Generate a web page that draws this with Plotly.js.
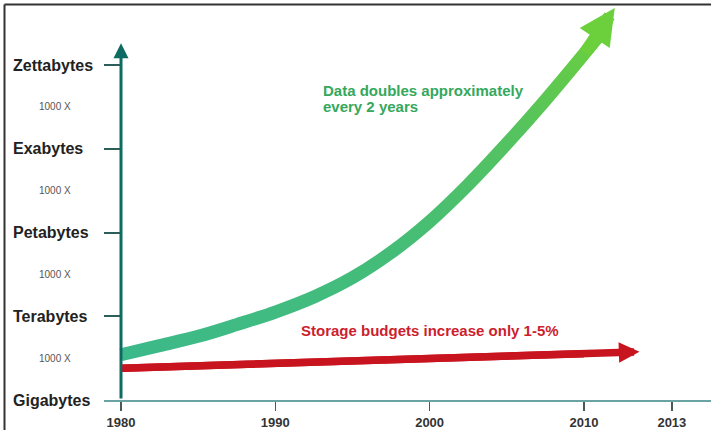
<!DOCTYPE html>
<html>
<head>
<meta charset="utf-8">
<script src="https://cdn.plot.ly/plotly-3.0.1.min.js"></script>
<style>
  html, body { margin: 0; padding: 0; background: #ffffff; }
  #chart { width: 711px; height: 430px; }
</style>
</head>
<body>
<div id="chart"></div>
<script>
// ---- data ----
const levelNames = ['Gigabytes', 'Terabytes', 'Petabytes', 'Exabytes', 'Zettabytes'];
const levelValues = [0, 1, 2, 3, 4];
const stepLabel = '1000 X';
const stepValues = [0.5, 1.5, 2.5, 3.5];

const tickYears = [1980, 1990, 2000, 2010, 2015.7];
const tickLabels = ['1980', '1990', '2000', '2010', '2013'];

// data growth (levels of 1000x above Gigabytes)
const dataYears = [1980, 1982.5, 1985, 1987.5, 1990, 1992.5, 1995, 1997.5, 2000, 2002.5, 2005, 2007.5, 2010, 2011.5, 2012];
const dataLevel = [0.54, 0.65, 0.76, 0.90, 1.05, 1.23, 1.46, 1.76, 2.13, 2.57, 3.06, 3.58, 4.13, 4.47, 4.68];

// storage budget growth
const budgetYears = [1980, 2010, 2013.6];
const budgetLevel = [0.38, 0.553, 0.575];

const dataText = ['Data doubles approximately', 'every 2 years'];
const budgetText = 'Storage budgets increase only 1-5%';

// ---- layout helpers ----
const W = 711, H = 430;
const M = {l: 104, r: 0, t: 5, b: 30};
const PW = W - M.l - M.r, PH = H - M.t - M.b;
const px = x => (x - M.l) / PW;           // pixel -> paper x
const py = y => (H - M.b - y) / PH;       // pixel -> paper y

const FONT = 'Liberation Sans, Arial, sans-serif';
const teal = '#0e6b62';
const red = '#c8141e';

const nD = dataYears.length, nB = budgetYears.length;

const traces = [
  {
    x: budgetYears.slice(0, nB - 1), y: budgetLevel.slice(0, nB - 1),
    mode: 'lines', line: {color: red, width: 7.5},
    hoverinfo: 'skip', showlegend: false
  },
  {
    x: dataYears.slice(0, nD - 1), y: dataLevel.slice(0, nD - 1),
    mode: 'lines', line: {color: '#4cc070', width: 13, shape: 'spline', smoothing: 1},
    hoverinfo: 'skip', showlegend: false
  }
];

const annotations = [];
// level names
levelNames.forEach((n, i) => annotations.push({
  xref: 'paper', yref: 'y', x: px(11), y: levelValues[i], text: n,
  showarrow: false, xanchor: 'left', yanchor: 'middle',
  font: {family: FONT, size: 16, color: '#222222', weight: 'bold'}
}));
stepValues.forEach(v => annotations.push({
  xref: 'paper', yref: 'y', x: px(55), y: v, text: stepLabel,
  showarrow: false, xanchor: 'center', yanchor: 'middle',
  font: {family: FONT, size: 10, color: '#555555'}
}));
// y axis arrow
annotations.push({
  xref: 'x', yref: 'y', axref: 'x', ayref: 'y',
  x: 1980, y: 4.26, ax: 1980, ay: 0, text: '',
  showarrow: true, arrowhead: 2, arrowsize: 1.0, arrowwidth: 3, arrowcolor: teal, standoff: 0
});
// arrow heads of the two series
annotations.push({
  xref: 'x', yref: 'y', axref: 'x', ayref: 'y',
  x: budgetYears[nB - 1], y: budgetLevel[nB - 1], ax: budgetYears[0], ay: budgetLevel[0],
  text: '', showarrow: true, arrowhead: 2, arrowsize: 0.55, arrowwidth: 7.5, arrowcolor: red, standoff: 0
});
annotations.push({
  xref: 'x', yref: 'y', axref: 'x', ayref: 'y',
  x: dataYears[nD - 1], y: dataLevel[nD - 1], ax: dataYears[nD - 3], ay: dataLevel[nD - 3],
  text: '', showarrow: true, arrowhead: 2, arrowsize: 0.6, arrowwidth: 12, arrowcolor: '#6cd03c', standoff: 0
});
// texts
annotations.push({
  xref: 'paper', yref: 'paper', x: px(321), y: py(90), text: '<b>' + dataText[0] + '</b>',
  showarrow: false, xanchor: 'left', yanchor: 'middle',
  font: {family: FONT, size: 15, color: '#35a85c'}
});
annotations.push({
  xref: 'paper', yref: 'paper', x: px(321), y: py(106), text: '<b>' + dataText[1] + '</b>',
  showarrow: false, xanchor: 'left', yanchor: 'middle',
  font: {family: FONT, size: 15, color: '#35a85c'}
});
annotations.push({
  xref: 'paper', yref: 'paper', x: px(299), y: py(330), text: '<b>' + budgetText + '</b>',
  showarrow: false, xanchor: 'left', yanchor: 'middle',
  font: {family: FONT, size: 15, color: '#cc1e2e'}
});

const pxPerYear = 15.43;
const x0 = 1980 - (121 - M.l) / pxPerYear;
const x1 = x0 + PW / pxPerYear;
const yTop = PH / 83.75;

const layout = {
  width: W, height: H,
  margin: M,
  paper_bgcolor: '#ffffff', plot_bgcolor: '#ffffff',
  showlegend: false,
  xaxis: {
    range: [x0, x1], showgrid: false, zeroline: false,
    showline: true, linecolor: '#6aa3a3', linewidth: 2,
    ticks: 'outside', ticklen: 9, tickwidth: 1.5, tickcolor: '#4a5a5a',
    tickmode: 'array', tickvals: tickYears, ticktext: tickLabels,
    tickfont: {family: FONT, size: 13, color: '#333333', weight: 'bold'}
  },
  yaxis: {
    range: [0, yTop], showgrid: false, zeroline: false, showline: false,
    anchor: 'free', position: px(121),
    ticks: 'outside', ticklen: 17, tickwidth: 2, tickcolor: '#2e5e58',
    tickmode: 'array', tickvals: levelValues.slice(1), showticklabels: false
  },
  annotations: annotations,
  shapes: [
    {type: 'line', xref: 'paper', yref: 'paper', x0: px(4.5), x1: px(4.5), y0: py(430), y1: py(4.5),
     line: {color: '#333333', width: 2}},
    {type: 'line', xref: 'paper', yref: 'paper', x0: px(4.5), x1: px(711), y0: py(4.5), y1: py(4.5),
     line: {color: '#333333', width: 2}}
  ]
};

function applyGradient() {
  const gd = document.getElementById('chart');
  const svg = gd.querySelector('svg.main-svg');
  if (!svg) return;
  const ns = 'http://www.w3.org/2000/svg';
  if (!document.getElementById('dataGrad')) {
    let defs = svg.querySelector('defs');
    if (!defs) { defs = document.createElementNS(ns, 'defs'); svg.insertBefore(defs, svg.firstChild); }
    const g = document.createElementNS(ns, 'linearGradient');
    g.setAttribute('id', 'dataGrad');
    g.setAttribute('x1', '0'); g.setAttribute('y1', '1');
    g.setAttribute('x2', '1'); g.setAttribute('y2', '0');
    [['0', '#3cb98a'], ['0.45', '#45bd77'], ['0.75', '#55c35e'], ['1', '#6cd03c']].forEach(([o, c]) => {
      const s = document.createElementNS(ns, 'stop');
      s.setAttribute('offset', o); s.setAttribute('stop-color', c);
      g.appendChild(s);
    });
    defs.appendChild(g);
  }
  gd.querySelectorAll('.scatterlayer path').forEach(p => {
    const sw = parseFloat(p.style.strokeWidth || p.getAttribute('stroke-width') || '0');
    if (sw > 10) {
      p.style.setProperty('stroke', 'url(#dataGrad)', 'important');
    }
  });
}

Plotly.newPlot('chart', traces, layout, {displayModeBar: false, staticPlot: true}).then(gd => {
  applyGradient();
  gd.on && gd.on('plotly_afterplot', applyGradient);
  setTimeout(applyGradient, 50);
  setTimeout(applyGradient, 300);
});
</script>
</body>
</html>
